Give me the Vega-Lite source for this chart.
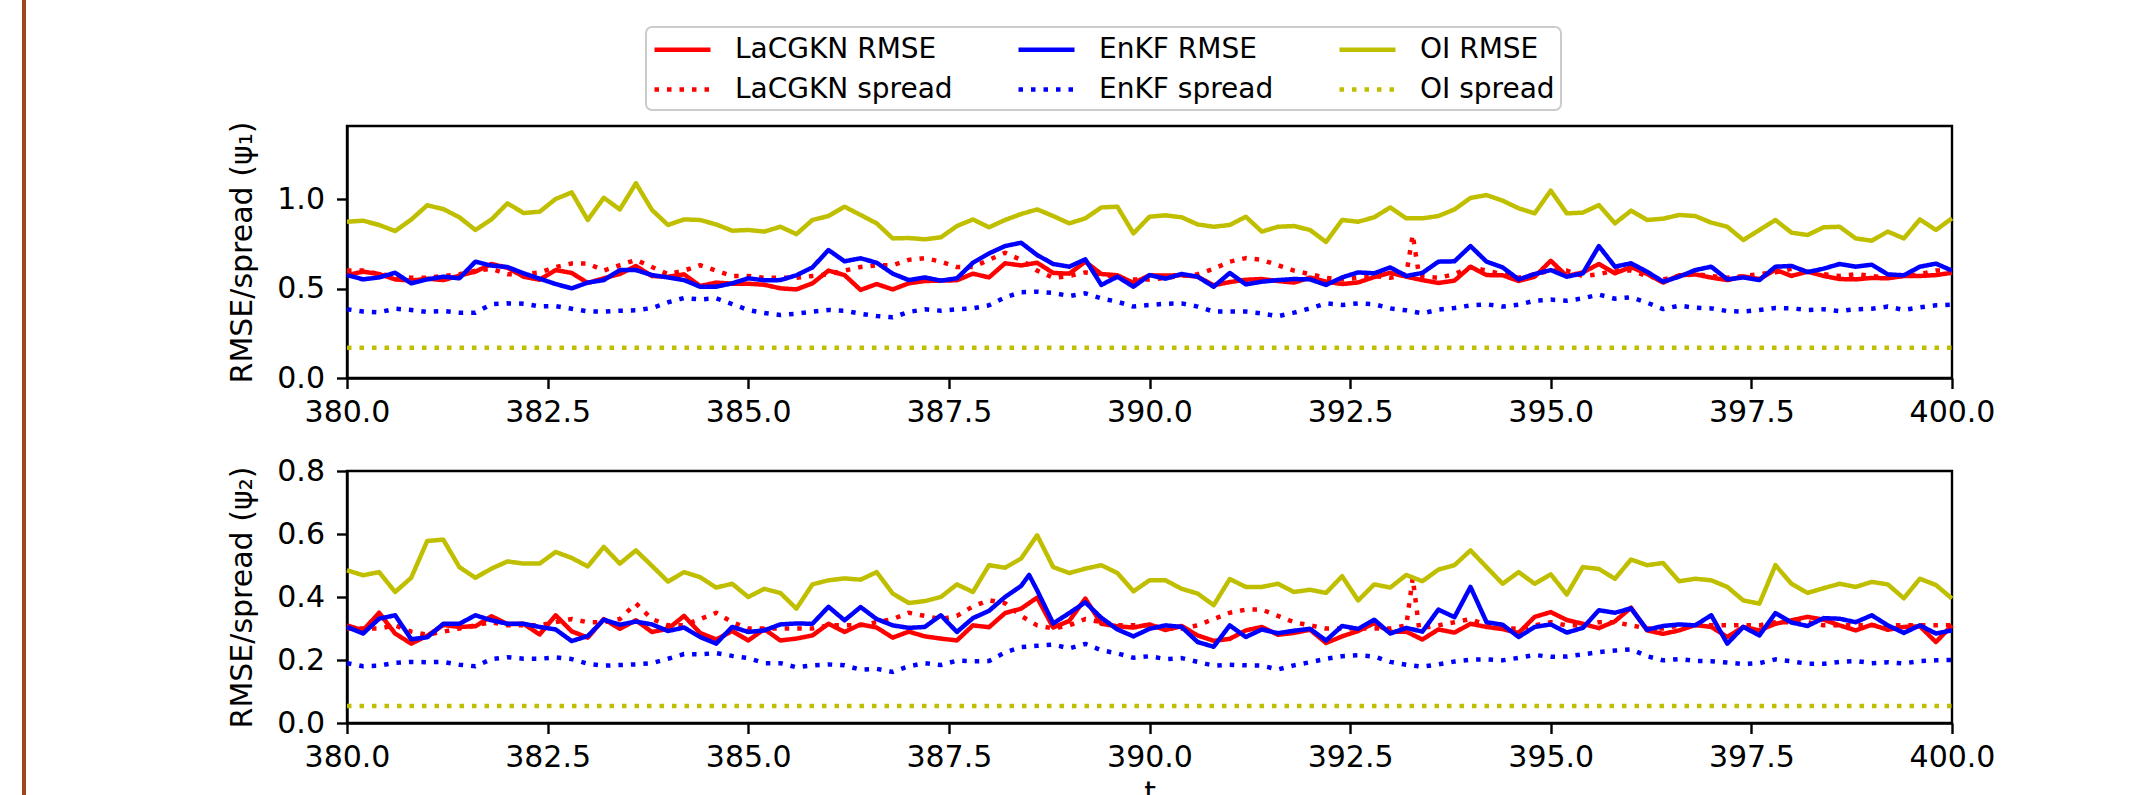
{
"$schema": "https://vega.github.io/schema/vega-lite/v6.json",
"autosize": {"type": "none"},
"padding": {"left": 347, "top": 126, "right": 1799, "bottom": 669},
"background": "white",
"datasets": {
"psi1": [
{"s":"LR","t":380.0,"v":0.575},{"s":"LR","t":380.2,"v":0.594},{"s":"LR","t":380.4,"v":0.581},{"s":"LR","t":380.6,"v":0.551},{"s":"LR","t":380.8,"v":0.544},{"s":"LR","t":381.0,"v":0.555},{"s":"LR","t":381.2,"v":0.547},{"s":"LR","t":381.4,"v":0.572},{"s":"LR","t":381.6,"v":0.594},{"s":"LR","t":381.8,"v":0.637},{"s":"LR","t":382.0,"v":0.616},{"s":"LR","t":382.2,"v":0.566},{"s":"LR","t":382.4,"v":0.549},{"s":"LR","t":382.6,"v":0.603},{"s":"LR","t":382.8,"v":0.587},{"s":"LR","t":383.0,"v":0.531},{"s":"LR","t":383.2,"v":0.557},{"s":"LR","t":383.4,"v":0.581},{"s":"LR","t":383.6,"v":0.626},{"s":"LR","t":383.8,"v":0.570},{"s":"LR","t":384.0,"v":0.566},{"s":"LR","t":384.2,"v":0.579},{"s":"LR","t":384.4,"v":0.514},{"s":"LR","t":384.6,"v":0.533},{"s":"LR","t":384.8,"v":0.527},{"s":"LR","t":385.0,"v":0.527},{"s":"LR","t":385.2,"v":0.521},{"s":"LR","t":385.4,"v":0.501},{"s":"LR","t":385.6,"v":0.495},{"s":"LR","t":385.8,"v":0.529},{"s":"LR","t":386.0,"v":0.600},{"s":"LR","t":386.2,"v":0.575},{"s":"LR","t":386.4,"v":0.492},{"s":"LR","t":386.6,"v":0.525},{"s":"LR","t":386.8,"v":0.495},{"s":"LR","t":387.0,"v":0.529},{"s":"LR","t":387.2,"v":0.542},{"s":"LR","t":387.4,"v":0.544},{"s":"LR","t":387.6,"v":0.546},{"s":"LR","t":387.8,"v":0.583},{"s":"LR","t":388.0,"v":0.562},{"s":"LR","t":388.2,"v":0.641},{"s":"LR","t":388.4,"v":0.629},{"s":"LR","t":388.6,"v":0.644},{"s":"LR","t":388.8,"v":0.587},{"s":"LR","t":389.0,"v":0.583},{"s":"LR","t":389.2,"v":0.650},{"s":"LR","t":389.4,"v":0.581},{"s":"LR","t":389.6,"v":0.574},{"s":"LR","t":389.8,"v":0.531},{"s":"LR","t":390.0,"v":0.574},{"s":"LR","t":390.2,"v":0.572},{"s":"LR","t":390.4,"v":0.575},{"s":"LR","t":390.6,"v":0.566},{"s":"LR","t":390.8,"v":0.518},{"s":"LR","t":391.0,"v":0.536},{"s":"LR","t":391.2,"v":0.549},{"s":"LR","t":391.4,"v":0.553},{"s":"LR","t":391.6,"v":0.542},{"s":"LR","t":391.8,"v":0.533},{"s":"LR","t":392.0,"v":0.561},{"s":"LR","t":392.2,"v":0.538},{"s":"LR","t":392.4,"v":0.525},{"s":"LR","t":392.6,"v":0.534},{"s":"LR","t":392.8,"v":0.564},{"s":"LR","t":393.0,"v":0.588},{"s":"LR","t":393.2,"v":0.566},{"s":"LR","t":393.4,"v":0.547},{"s":"LR","t":393.6,"v":0.531},{"s":"LR","t":393.8,"v":0.544},{"s":"LR","t":394.0,"v":0.622},{"s":"LR","t":394.2,"v":0.575},{"s":"LR","t":394.4,"v":0.574},{"s":"LR","t":394.6,"v":0.542},{"s":"LR","t":394.8,"v":0.566},{"s":"LR","t":395.0,"v":0.655},{"s":"LR","t":395.2,"v":0.570},{"s":"LR","t":395.4,"v":0.590},{"s":"LR","t":395.6,"v":0.637},{"s":"LR","t":395.8,"v":0.585},{"s":"LR","t":396.0,"v":0.620},{"s":"LR","t":396.2,"v":0.581},{"s":"LR","t":396.4,"v":0.533},{"s":"LR","t":396.6,"v":0.574},{"s":"LR","t":396.8,"v":0.579},{"s":"LR","t":397.0,"v":0.561},{"s":"LR","t":397.2,"v":0.547},{"s":"LR","t":397.4,"v":0.568},{"s":"LR","t":397.6,"v":0.553},{"s":"LR","t":397.8,"v":0.605},{"s":"LR","t":398.0,"v":0.570},{"s":"LR","t":398.2,"v":0.594},{"s":"LR","t":398.4,"v":0.570},{"s":"LR","t":398.6,"v":0.553},{"s":"LR","t":398.8,"v":0.551},{"s":"LR","t":399.0,"v":0.559},{"s":"LR","t":399.2,"v":0.557},{"s":"LR","t":399.4,"v":0.570},{"s":"LR","t":399.6,"v":0.570},{"s":"LR","t":399.8,"v":0.575},{"s":"LR","t":400.0,"v":0.588},
{"s":"LS","t":380.0,"v":0.60},{"s":"LS","t":380.2,"v":0.60},{"s":"LS","t":380.4,"v":0.58},{"s":"LS","t":380.6,"v":0.57},{"s":"LS","t":380.8,"v":0.56},{"s":"LS","t":381.0,"v":0.56},{"s":"LS","t":381.2,"v":0.57},{"s":"LS","t":381.4,"v":0.58},{"s":"LS","t":381.6,"v":0.60},{"s":"LS","t":381.8,"v":0.61},{"s":"LS","t":382.0,"v":0.58},{"s":"LS","t":382.2,"v":0.58},{"s":"LS","t":382.4,"v":0.59},{"s":"LS","t":382.6,"v":0.62},{"s":"LS","t":382.8,"v":0.64},{"s":"LS","t":383.0,"v":0.64},{"s":"LS","t":383.2,"v":0.60},{"s":"LS","t":383.4,"v":0.63},{"s":"LS","t":383.6,"v":0.66},{"s":"LS","t":383.8,"v":0.62},{"s":"LS","t":384.0,"v":0.58},{"s":"LS","t":384.2,"v":0.60},{"s":"LS","t":384.4,"v":0.63},{"s":"LS","t":384.6,"v":0.60},{"s":"LS","t":384.8,"v":0.57},{"s":"LS","t":385.0,"v":0.57},{"s":"LS","t":385.2,"v":0.56},{"s":"LS","t":385.4,"v":0.56},{"s":"LS","t":385.6,"v":0.56},{"s":"LS","t":385.8,"v":0.57},{"s":"LS","t":386.0,"v":0.58},{"s":"LS","t":386.2,"v":0.60},{"s":"LS","t":386.4,"v":0.62},{"s":"LS","t":386.6,"v":0.63},{"s":"LS","t":386.8,"v":0.63},{"s":"LS","t":387.0,"v":0.66},{"s":"LS","t":387.2,"v":0.67},{"s":"LS","t":387.4,"v":0.65},{"s":"LS","t":387.6,"v":0.62},{"s":"LS","t":387.8,"v":0.62},{"s":"LS","t":388.0,"v":0.66},{"s":"LS","t":388.2,"v":0.70},{"s":"LS","t":388.4,"v":0.66},{"s":"LS","t":388.6,"v":0.60},{"s":"LS","t":388.8,"v":0.56},{"s":"LS","t":389.0,"v":0.57},{"s":"LS","t":389.2,"v":0.59},{"s":"LS","t":389.4,"v":0.58},{"s":"LS","t":389.6,"v":0.56},{"s":"LS","t":389.8,"v":0.55},{"s":"LS","t":390.0,"v":0.55},{"s":"LS","t":390.2,"v":0.56},{"s":"LS","t":390.4,"v":0.57},{"s":"LS","t":390.6,"v":0.58},{"s":"LS","t":390.8,"v":0.61},{"s":"LS","t":391.0,"v":0.65},{"s":"LS","t":391.2,"v":0.67},{"s":"LS","t":391.4,"v":0.66},{"s":"LS","t":391.6,"v":0.63},{"s":"LS","t":391.8,"v":0.60},{"s":"LS","t":392.0,"v":0.58},{"s":"LS","t":392.2,"v":0.56},{"s":"LS","t":392.4,"v":0.55},{"s":"LS","t":392.6,"v":0.56},{"s":"LS","t":392.8,"v":0.57},{"s":"LS","t":393.0,"v":0.56},{"s":"LS","t":393.2,"v":0.58},{"s":"LS","t":393.28,"v":0.80},{"s":"LS","t":393.36,"v":0.57},{"s":"LS","t":393.6,"v":0.56},{"s":"LS","t":393.8,"v":0.58},{"s":"LS","t":394.0,"v":0.62},{"s":"LS","t":394.2,"v":0.60},{"s":"LS","t":394.4,"v":0.58},{"s":"LS","t":394.6,"v":0.56},{"s":"LS","t":394.8,"v":0.58},{"s":"LS","t":395.0,"v":0.60},{"s":"LS","t":395.2,"v":0.60},{"s":"LS","t":395.4,"v":0.57},{"s":"LS","t":395.6,"v":0.58},{"s":"LS","t":395.8,"v":0.60},{"s":"LS","t":396.0,"v":0.60},{"s":"LS","t":396.2,"v":0.57},{"s":"LS","t":396.4,"v":0.55},{"s":"LS","t":396.6,"v":0.57},{"s":"LS","t":396.8,"v":0.58},{"s":"LS","t":397.0,"v":0.57},{"s":"LS","t":397.2,"v":0.56},{"s":"LS","t":397.4,"v":0.57},{"s":"LS","t":397.6,"v":0.58},{"s":"LS","t":397.8,"v":0.59},{"s":"LS","t":398.0,"v":0.61},{"s":"LS","t":398.2,"v":0.60},{"s":"LS","t":398.4,"v":0.58},{"s":"LS","t":398.6,"v":0.57},{"s":"LS","t":398.8,"v":0.58},{"s":"LS","t":399.0,"v":0.57},{"s":"LS","t":399.2,"v":0.56},{"s":"LS","t":399.4,"v":0.57},{"s":"LS","t":399.6,"v":0.58},{"s":"LS","t":399.8,"v":0.60},{"s":"LS","t":400.0,"v":0.60},
{"s":"ER","t":380.0,"v":0.575},{"s":"ER","t":380.2,"v":0.551},{"s":"ER","t":380.4,"v":0.562},{"s":"ER","t":380.6,"v":0.588},{"s":"ER","t":380.8,"v":0.529},{"s":"ER","t":381.0,"v":0.551},{"s":"ER","t":381.2,"v":0.566},{"s":"ER","t":381.4,"v":0.557},{"s":"ER","t":381.6,"v":0.650},{"s":"ER","t":381.8,"v":0.628},{"s":"ER","t":382.0,"v":0.620},{"s":"ER","t":382.2,"v":0.585},{"s":"ER","t":382.4,"v":0.555},{"s":"ER","t":382.6,"v":0.525},{"s":"ER","t":382.8,"v":0.501},{"s":"ER","t":383.0,"v":0.533},{"s":"ER","t":383.2,"v":0.547},{"s":"ER","t":383.4,"v":0.603},{"s":"ER","t":383.6,"v":0.603},{"s":"ER","t":383.8,"v":0.575},{"s":"ER","t":384.0,"v":0.562},{"s":"ER","t":384.2,"v":0.547},{"s":"ER","t":384.4,"v":0.510},{"s":"ER","t":384.6,"v":0.510},{"s":"ER","t":384.8,"v":0.529},{"s":"ER","t":385.0,"v":0.557},{"s":"ER","t":385.2,"v":0.546},{"s":"ER","t":385.4,"v":0.547},{"s":"ER","t":385.6,"v":0.574},{"s":"ER","t":385.8,"v":0.618},{"s":"ER","t":386.0,"v":0.715},{"s":"ER","t":386.2,"v":0.652},{"s":"ER","t":386.4,"v":0.669},{"s":"ER","t":386.6,"v":0.644},{"s":"ER","t":386.8,"v":0.583},{"s":"ER","t":387.0,"v":0.547},{"s":"ER","t":387.2,"v":0.562},{"s":"ER","t":387.4,"v":0.544},{"s":"ER","t":387.6,"v":0.557},{"s":"ER","t":387.8,"v":0.644},{"s":"ER","t":388.0,"v":0.696},{"s":"ER","t":388.2,"v":0.737},{"s":"ER","t":388.4,"v":0.756},{"s":"ER","t":388.6,"v":0.687},{"s":"ER","t":388.8,"v":0.637},{"s":"ER","t":389.0,"v":0.622},{"s":"ER","t":389.2,"v":0.663},{"s":"ER","t":389.4,"v":0.520},{"s":"ER","t":389.6,"v":0.566},{"s":"ER","t":389.8,"v":0.510},{"s":"ER","t":390.0,"v":0.575},{"s":"ER","t":390.2,"v":0.555},{"s":"ER","t":390.4,"v":0.581},{"s":"ER","t":390.6,"v":0.566},{"s":"ER","t":390.8,"v":0.510},{"s":"ER","t":391.0,"v":0.587},{"s":"ER","t":391.2,"v":0.523},{"s":"ER","t":391.4,"v":0.538},{"s":"ER","t":391.6,"v":0.547},{"s":"ER","t":391.8,"v":0.553},{"s":"ER","t":392.0,"v":0.551},{"s":"ER","t":392.2,"v":0.520},{"s":"ER","t":392.4,"v":0.562},{"s":"ER","t":392.6,"v":0.590},{"s":"ER","t":392.8,"v":0.585},{"s":"ER","t":393.0,"v":0.618},{"s":"ER","t":393.2,"v":0.570},{"s":"ER","t":393.4,"v":0.587},{"s":"ER","t":393.6,"v":0.650},{"s":"ER","t":393.8,"v":0.652},{"s":"ER","t":394.0,"v":0.737},{"s":"ER","t":394.2,"v":0.650},{"s":"ER","t":394.4,"v":0.618},{"s":"ER","t":394.6,"v":0.551},{"s":"ER","t":394.8,"v":0.581},{"s":"ER","t":395.0,"v":0.603},{"s":"ER","t":395.2,"v":0.566},{"s":"ER","t":395.4,"v":0.585},{"s":"ER","t":395.6,"v":0.737},{"s":"ER","t":395.8,"v":0.622},{"s":"ER","t":396.0,"v":0.641},{"s":"ER","t":396.2,"v":0.594},{"s":"ER","t":396.4,"v":0.538},{"s":"ER","t":396.6,"v":0.566},{"s":"ER","t":396.8,"v":0.603},{"s":"ER","t":397.0,"v":0.622},{"s":"ER","t":397.2,"v":0.551},{"s":"ER","t":397.4,"v":0.562},{"s":"ER","t":397.6,"v":0.547},{"s":"ER","t":397.8,"v":0.622},{"s":"ER","t":398.0,"v":0.626},{"s":"ER","t":398.2,"v":0.592},{"s":"ER","t":398.4,"v":0.611},{"s":"ER","t":398.6,"v":0.637},{"s":"ER","t":398.8,"v":0.622},{"s":"ER","t":399.0,"v":0.633},{"s":"ER","t":399.2,"v":0.579},{"s":"ER","t":399.4,"v":0.574},{"s":"ER","t":399.6,"v":0.622},{"s":"ER","t":399.8,"v":0.639},{"s":"ER","t":400.0,"v":0.600},
{"s":"ES","t":380.0,"v":0.384},{"s":"ES","t":380.2,"v":0.372},{"s":"ES","t":380.4,"v":0.367},{"s":"ES","t":380.6,"v":0.387},{"s":"ES","t":380.8,"v":0.380},{"s":"ES","t":381.0,"v":0.369},{"s":"ES","t":381.2,"v":0.374},{"s":"ES","t":381.4,"v":0.365},{"s":"ES","t":381.6,"v":0.365},{"s":"ES","t":381.8,"v":0.412},{"s":"ES","t":382.0,"v":0.417},{"s":"ES","t":382.2,"v":0.415},{"s":"ES","t":382.4,"v":0.400},{"s":"ES","t":382.6,"v":0.402},{"s":"ES","t":382.8,"v":0.387},{"s":"ES","t":383.0,"v":0.372},{"s":"ES","t":383.2,"v":0.371},{"s":"ES","t":383.4,"v":0.376},{"s":"ES","t":383.6,"v":0.378},{"s":"ES","t":383.8,"v":0.391},{"s":"ES","t":384.0,"v":0.423},{"s":"ES","t":384.2,"v":0.447},{"s":"ES","t":384.4,"v":0.439},{"s":"ES","t":384.6,"v":0.445},{"s":"ES","t":384.8,"v":0.413},{"s":"ES","t":385.0,"v":0.380},{"s":"ES","t":385.2,"v":0.363},{"s":"ES","t":385.4,"v":0.352},{"s":"ES","t":385.6,"v":0.359},{"s":"ES","t":385.8,"v":0.371},{"s":"ES","t":386.0,"v":0.380},{"s":"ES","t":386.2,"v":0.376},{"s":"ES","t":386.4,"v":0.359},{"s":"ES","t":386.6,"v":0.346},{"s":"ES","t":386.8,"v":0.339},{"s":"ES","t":387.0,"v":0.369},{"s":"ES","t":387.2,"v":0.384},{"s":"ES","t":387.4,"v":0.376},{"s":"ES","t":387.6,"v":0.384},{"s":"ES","t":387.8,"v":0.389},{"s":"ES","t":388.0,"v":0.406},{"s":"ES","t":388.2,"v":0.451},{"s":"ES","t":388.4,"v":0.479},{"s":"ES","t":388.6,"v":0.482},{"s":"ES","t":388.8,"v":0.475},{"s":"ES","t":389.0,"v":0.458},{"s":"ES","t":389.2,"v":0.473},{"s":"ES","t":389.4,"v":0.445},{"s":"ES","t":389.6,"v":0.426},{"s":"ES","t":389.8,"v":0.399},{"s":"ES","t":390.0,"v":0.408},{"s":"ES","t":390.2,"v":0.415},{"s":"ES","t":390.4,"v":0.417},{"s":"ES","t":390.6,"v":0.399},{"s":"ES","t":390.8,"v":0.371},{"s":"ES","t":391.0,"v":0.371},{"s":"ES","t":391.2,"v":0.371},{"s":"ES","t":391.4,"v":0.361},{"s":"ES","t":391.6,"v":0.345},{"s":"ES","t":391.8,"v":0.365},{"s":"ES","t":392.0,"v":0.389},{"s":"ES","t":392.2,"v":0.417},{"s":"ES","t":392.4,"v":0.408},{"s":"ES","t":392.6,"v":0.417},{"s":"ES","t":392.8,"v":0.412},{"s":"ES","t":393.0,"v":0.389},{"s":"ES","t":393.2,"v":0.378},{"s":"ES","t":393.4,"v":0.361},{"s":"ES","t":393.6,"v":0.382},{"s":"ES","t":393.8,"v":0.391},{"s":"ES","t":394.0,"v":0.406},{"s":"ES","t":394.2,"v":0.412},{"s":"ES","t":394.4,"v":0.399},{"s":"ES","t":394.6,"v":0.410},{"s":"ES","t":394.8,"v":0.432},{"s":"ES","t":395.0,"v":0.438},{"s":"ES","t":395.2,"v":0.432},{"s":"ES","t":395.4,"v":0.445},{"s":"ES","t":395.6,"v":0.466},{"s":"ES","t":395.8,"v":0.443},{"s":"ES","t":396.0,"v":0.451},{"s":"ES","t":396.2,"v":0.421},{"s":"ES","t":396.4,"v":0.385},{"s":"ES","t":396.6,"v":0.404},{"s":"ES","t":396.8,"v":0.393},{"s":"ES","t":397.0,"v":0.389},{"s":"ES","t":397.2,"v":0.374},{"s":"ES","t":397.4,"v":0.371},{"s":"ES","t":397.6,"v":0.380},{"s":"ES","t":397.8,"v":0.391},{"s":"ES","t":398.0,"v":0.389},{"s":"ES","t":398.2,"v":0.380},{"s":"ES","t":398.4,"v":0.384},{"s":"ES","t":398.6,"v":0.374},{"s":"ES","t":398.8,"v":0.384},{"s":"ES","t":399.0,"v":0.387},{"s":"ES","t":399.2,"v":0.399},{"s":"ES","t":399.4,"v":0.380},{"s":"ES","t":399.6,"v":0.395},{"s":"ES","t":399.8,"v":0.406},{"s":"ES","t":400.0,"v":0.410},
{"s":"OR","t":380.0,"v":0.873},{"s":"OR","t":380.2,"v":0.879},{"s":"OR","t":380.4,"v":0.855},{"s":"OR","t":380.6,"v":0.821},{"s":"OR","t":380.8,"v":0.885},{"s":"OR","t":381.0,"v":0.965},{"s":"OR","t":381.2,"v":0.944},{"s":"OR","t":381.4,"v":0.898},{"s":"OR","t":381.6,"v":0.827},{"s":"OR","t":381.8,"v":0.886},{"s":"OR","t":382.0,"v":0.976},{"s":"OR","t":382.2,"v":0.922},{"s":"OR","t":382.4,"v":0.929},{"s":"OR","t":382.6,"v":1.0},{"s":"OR","t":382.8,"v":1.037},{"s":"OR","t":383.0,"v":0.883},{"s":"OR","t":383.2,"v":1.007},{"s":"OR","t":383.4,"v":0.942},{"s":"OR","t":383.6,"v":1.088},{"s":"OR","t":383.8,"v":0.939},{"s":"OR","t":384.0,"v":0.855},{"s":"OR","t":384.2,"v":0.886},{"s":"OR","t":384.4,"v":0.883},{"s":"OR","t":384.6,"v":0.858},{"s":"OR","t":384.8,"v":0.823},{"s":"OR","t":385.0,"v":0.827},{"s":"OR","t":385.2,"v":0.818},{"s":"OR","t":385.4,"v":0.845},{"s":"OR","t":385.6,"v":0.804},{"s":"OR","t":385.8,"v":0.883},{"s":"OR","t":386.0,"v":0.905},{"s":"OR","t":386.2,"v":0.957},{"s":"OR","t":386.4,"v":0.911},{"s":"OR","t":386.6,"v":0.864},{"s":"OR","t":386.8,"v":0.780},{"s":"OR","t":387.0,"v":0.782},{"s":"OR","t":387.2,"v":0.775},{"s":"OR","t":387.4,"v":0.786},{"s":"OR","t":387.6,"v":0.849},{"s":"OR","t":387.8,"v":0.886},{"s":"OR","t":388.0,"v":0.842},{"s":"OR","t":388.2,"v":0.883},{"s":"OR","t":388.4,"v":0.916},{"s":"OR","t":388.6,"v":0.942},{"s":"OR","t":388.8,"v":0.905},{"s":"OR","t":389.0,"v":0.864},{"s":"OR","t":389.2,"v":0.892},{"s":"OR","t":389.4,"v":0.953},{"s":"OR","t":389.6,"v":0.957},{"s":"OR","t":389.8,"v":0.808},{"s":"OR","t":390.0,"v":0.901},{"s":"OR","t":390.2,"v":0.909},{"s":"OR","t":390.4,"v":0.898},{"s":"OR","t":390.6,"v":0.858},{"s":"OR","t":390.8,"v":0.845},{"s":"OR","t":391.0,"v":0.855},{"s":"OR","t":391.2,"v":0.901},{"s":"OR","t":391.4,"v":0.818},{"s":"OR","t":391.6,"v":0.845},{"s":"OR","t":391.8,"v":0.849},{"s":"OR","t":392.0,"v":0.827},{"s":"OR","t":392.2,"v":0.760},{"s":"OR","t":392.4,"v":0.883},{"s":"OR","t":392.6,"v":0.873},{"s":"OR","t":392.8,"v":0.898},{"s":"OR","t":393.0,"v":0.953},{"s":"OR","t":393.2,"v":0.892},{"s":"OR","t":393.4,"v":0.892},{"s":"OR","t":393.6,"v":0.905},{"s":"OR","t":393.8,"v":0.942},{"s":"OR","t":394.0,"v":1.006},{"s":"OR","t":394.2,"v":1.022},{"s":"OR","t":394.4,"v":0.991},{"s":"OR","t":394.6,"v":0.948},{"s":"OR","t":394.8,"v":0.920},{"s":"OR","t":395.0,"v":1.047},{"s":"OR","t":395.2,"v":0.920},{"s":"OR","t":395.4,"v":0.924},{"s":"OR","t":395.6,"v":0.966},{"s":"OR","t":395.8,"v":0.864},{"s":"OR","t":396.0,"v":0.935},{"s":"OR","t":396.2,"v":0.883},{"s":"OR","t":396.4,"v":0.890},{"s":"OR","t":396.6,"v":0.911},{"s":"OR","t":396.8,"v":0.905},{"s":"OR","t":397.0,"v":0.868},{"s":"OR","t":397.2,"v":0.845},{"s":"OR","t":397.4,"v":0.771},{"s":"OR","t":397.6,"v":0.827},{"s":"OR","t":397.8,"v":0.883},{"s":"OR","t":398.0,"v":0.812},{"s":"OR","t":398.2,"v":0.799},{"s":"OR","t":398.4,"v":0.842},{"s":"OR","t":398.6,"v":0.845},{"s":"OR","t":398.8,"v":0.780},{"s":"OR","t":399.0,"v":0.767},{"s":"OR","t":399.2,"v":0.818},{"s":"OR","t":399.4,"v":0.780},{"s":"OR","t":399.6,"v":0.886},{"s":"OR","t":399.8,"v":0.827},{"s":"OR","t":400.0,"v":0.892},
{"s":"OS","t":380.0,"v":0.169},{"s":"OS","t":400.0,"v":0.169}
],
"psi2": [
{"s":"LR","t":380.0,"v":0.310},{"s":"LR","t":380.2,"v":0.294},{"s":"LR","t":380.4,"v":0.350},{"s":"LR","t":380.6,"v":0.284},{"s":"LR","t":380.8,"v":0.252},{"s":"LR","t":381.0,"v":0.277},{"s":"LR","t":381.2,"v":0.311},{"s":"LR","t":381.4,"v":0.305},{"s":"LR","t":381.6,"v":0.307},{"s":"LR","t":381.8,"v":0.339},{"s":"LR","t":382.0,"v":0.314},{"s":"LR","t":382.2,"v":0.315},{"s":"LR","t":382.4,"v":0.281},{"s":"LR","t":382.6,"v":0.342},{"s":"LR","t":382.8,"v":0.291},{"s":"LR","t":383.0,"v":0.271},{"s":"LR","t":383.2,"v":0.330},{"s":"LR","t":383.4,"v":0.299},{"s":"LR","t":383.6,"v":0.326},{"s":"LR","t":383.8,"v":0.289},{"s":"LR","t":384.0,"v":0.299},{"s":"LR","t":384.2,"v":0.340},{"s":"LR","t":384.4,"v":0.286},{"s":"LR","t":384.6,"v":0.265},{"s":"LR","t":384.8,"v":0.292},{"s":"LR","t":385.0,"v":0.262},{"s":"LR","t":385.2,"v":0.298},{"s":"LR","t":385.4,"v":0.262},{"s":"LR","t":385.6,"v":0.268},{"s":"LR","t":385.8,"v":0.278},{"s":"LR","t":386.0,"v":0.315},{"s":"LR","t":386.2,"v":0.289},{"s":"LR","t":386.4,"v":0.313},{"s":"LR","t":386.6,"v":0.303},{"s":"LR","t":386.8,"v":0.271},{"s":"LR","t":387.0,"v":0.290},{"s":"LR","t":387.2,"v":0.275},{"s":"LR","t":387.4,"v":0.268},{"s":"LR","t":387.6,"v":0.262},{"s":"LR","t":387.8,"v":0.310},{"s":"LR","t":388.0,"v":0.304},{"s":"LR","t":388.2,"v":0.349},{"s":"LR","t":388.4,"v":0.363},{"s":"LR","t":388.6,"v":0.398},{"s":"LR","t":388.8,"v":0.303},{"s":"LR","t":389.0,"v":0.324},{"s":"LR","t":389.2,"v":0.395},{"s":"LR","t":389.4,"v":0.315},{"s":"LR","t":389.6,"v":0.307},{"s":"LR","t":389.8,"v":0.303},{"s":"LR","t":390.0,"v":0.313},{"s":"LR","t":390.2,"v":0.295},{"s":"LR","t":390.4,"v":0.308},{"s":"LR","t":390.6,"v":0.278},{"s":"LR","t":390.8,"v":0.261},{"s":"LR","t":391.0,"v":0.267},{"s":"LR","t":391.2,"v":0.294},{"s":"LR","t":391.4,"v":0.305},{"s":"LR","t":391.6,"v":0.280},{"s":"LR","t":391.8,"v":0.286},{"s":"LR","t":392.0,"v":0.296},{"s":"LR","t":392.2,"v":0.254},{"s":"LR","t":392.4,"v":0.275},{"s":"LR","t":392.6,"v":0.292},{"s":"LR","t":392.8,"v":0.317},{"s":"LR","t":393.0,"v":0.289},{"s":"LR","t":393.2,"v":0.290},{"s":"LR","t":393.4,"v":0.265},{"s":"LR","t":393.6,"v":0.297},{"s":"LR","t":393.8,"v":0.287},{"s":"LR","t":394.0,"v":0.315},{"s":"LR","t":394.2,"v":0.305},{"s":"LR","t":394.4,"v":0.298},{"s":"LR","t":394.6,"v":0.286},{"s":"LR","t":394.8,"v":0.337},{"s":"LR","t":395.0,"v":0.352},{"s":"LR","t":395.2,"v":0.327},{"s":"LR","t":395.4,"v":0.315},{"s":"LR","t":395.6,"v":0.301},{"s":"LR","t":395.8,"v":0.323},{"s":"LR","t":396.0,"v":0.366},{"s":"LR","t":396.2,"v":0.294},{"s":"LR","t":396.4,"v":0.283},{"s":"LR","t":396.6,"v":0.294},{"s":"LR","t":396.8,"v":0.311},{"s":"LR","t":397.0,"v":0.305},{"s":"LR","t":397.2,"v":0.273},{"s":"LR","t":397.4,"v":0.305},{"s":"LR","t":397.6,"v":0.294},{"s":"LR","t":397.8,"v":0.315},{"s":"LR","t":398.0,"v":0.326},{"s":"LR","t":398.2,"v":0.337},{"s":"LR","t":398.4,"v":0.328},{"s":"LR","t":398.6,"v":0.310},{"s":"LR","t":398.8,"v":0.294},{"s":"LR","t":399.0,"v":0.312},{"s":"LR","t":399.2,"v":0.296},{"s":"LR","t":399.4,"v":0.305},{"s":"LR","t":399.6,"v":0.307},{"s":"LR","t":399.8,"v":0.257},{"s":"LR","t":400.0,"v":0.310},
{"s":"LS","t":380.0,"v":0.30},{"s":"LS","t":380.2,"v":0.30},{"s":"LS","t":380.4,"v":0.30},{"s":"LS","t":380.6,"v":0.31},{"s":"LS","t":380.8,"v":0.29},{"s":"LS","t":381.0,"v":0.28},{"s":"LS","t":381.2,"v":0.29},{"s":"LS","t":381.4,"v":0.30},{"s":"LS","t":381.6,"v":0.31},{"s":"LS","t":381.8,"v":0.32},{"s":"LS","t":382.0,"v":0.31},{"s":"LS","t":382.2,"v":0.31},{"s":"LS","t":382.4,"v":0.31},{"s":"LS","t":382.6,"v":0.32},{"s":"LS","t":382.8,"v":0.33},{"s":"LS","t":383.0,"v":0.32},{"s":"LS","t":383.2,"v":0.32},{"s":"LS","t":383.4,"v":0.33},{"s":"LS","t":383.6,"v":0.38},{"s":"LS","t":383.8,"v":0.33},{"s":"LS","t":384.0,"v":0.31},{"s":"LS","t":384.2,"v":0.31},{"s":"LS","t":384.4,"v":0.33},{"s":"LS","t":384.6,"v":0.35},{"s":"LS","t":384.8,"v":0.32},{"s":"LS","t":385.0,"v":0.30},{"s":"LS","t":385.2,"v":0.30},{"s":"LS","t":385.4,"v":0.30},{"s":"LS","t":385.6,"v":0.30},{"s":"LS","t":385.8,"v":0.30},{"s":"LS","t":386.0,"v":0.31},{"s":"LS","t":386.2,"v":0.31},{"s":"LS","t":386.4,"v":0.31},{"s":"LS","t":386.6,"v":0.32},{"s":"LS","t":386.8,"v":0.33},{"s":"LS","t":387.0,"v":0.35},{"s":"LS","t":387.2,"v":0.34},{"s":"LS","t":387.4,"v":0.33},{"s":"LS","t":387.6,"v":0.34},{"s":"LS","t":387.8,"v":0.37},{"s":"LS","t":388.0,"v":0.39},{"s":"LS","t":388.2,"v":0.38},{"s":"LS","t":388.4,"v":0.34},{"s":"LS","t":388.6,"v":0.31},{"s":"LS","t":388.8,"v":0.30},{"s":"LS","t":389.0,"v":0.31},{"s":"LS","t":389.2,"v":0.33},{"s":"LS","t":389.4,"v":0.32},{"s":"LS","t":389.6,"v":0.31},{"s":"LS","t":389.8,"v":0.31},{"s":"LS","t":390.0,"v":0.31},{"s":"LS","t":390.2,"v":0.30},{"s":"LS","t":390.4,"v":0.30},{"s":"LS","t":390.6,"v":0.31},{"s":"LS","t":390.8,"v":0.33},{"s":"LS","t":391.0,"v":0.35},{"s":"LS","t":391.2,"v":0.36},{"s":"LS","t":391.4,"v":0.36},{"s":"LS","t":391.6,"v":0.34},{"s":"LS","t":391.8,"v":0.32},{"s":"LS","t":392.0,"v":0.31},{"s":"LS","t":392.2,"v":0.30},{"s":"LS","t":392.4,"v":0.30},{"s":"LS","t":392.6,"v":0.30},{"s":"LS","t":392.8,"v":0.30},{"s":"LS","t":393.0,"v":0.30},{"s":"LS","t":393.2,"v":0.31},{"s":"LS","t":393.28,"v":0.46},{"s":"LS","t":393.36,"v":0.30},{"s":"LS","t":393.6,"v":0.31},{"s":"LS","t":393.8,"v":0.32},{"s":"LS","t":394.0,"v":0.33},{"s":"LS","t":394.2,"v":0.31},{"s":"LS","t":394.4,"v":0.30},{"s":"LS","t":394.6,"v":0.30},{"s":"LS","t":394.8,"v":0.31},{"s":"LS","t":395.0,"v":0.32},{"s":"LS","t":395.2,"v":0.31},{"s":"LS","t":395.4,"v":0.31},{"s":"LS","t":395.6,"v":0.32},{"s":"LS","t":395.8,"v":0.32},{"s":"LS","t":396.0,"v":0.31},{"s":"LS","t":396.2,"v":0.30},{"s":"LS","t":396.4,"v":0.30},{"s":"LS","t":396.6,"v":0.31},{"s":"LS","t":396.8,"v":0.31},{"s":"LS","t":397.0,"v":0.31},{"s":"LS","t":397.2,"v":0.31},{"s":"LS","t":397.4,"v":0.31},{"s":"LS","t":397.6,"v":0.31},{"s":"LS","t":397.8,"v":0.32},{"s":"LS","t":398.0,"v":0.32},{"s":"LS","t":398.2,"v":0.32},{"s":"LS","t":398.4,"v":0.31},{"s":"LS","t":398.6,"v":0.31},{"s":"LS","t":398.8,"v":0.31},{"s":"LS","t":399.0,"v":0.31},{"s":"LS","t":399.2,"v":0.31},{"s":"LS","t":399.4,"v":0.31},{"s":"LS","t":399.6,"v":0.31},{"s":"LS","t":399.8,"v":0.31},{"s":"LS","t":400.0,"v":0.31},
{"s":"ER","t":380.0,"v":0.305},{"s":"ER","t":380.2,"v":0.284},{"s":"ER","t":380.4,"v":0.331},{"s":"ER","t":380.6,"v":0.342},{"s":"ER","t":380.8,"v":0.266},{"s":"ER","t":381.0,"v":0.272},{"s":"ER","t":381.2,"v":0.315},{"s":"ER","t":381.4,"v":0.315},{"s":"ER","t":381.6,"v":0.342},{"s":"ER","t":381.8,"v":0.326},{"s":"ER","t":382.0,"v":0.315},{"s":"ER","t":382.2,"v":0.315},{"s":"ER","t":382.4,"v":0.305},{"s":"ER","t":382.6,"v":0.297},{"s":"ER","t":382.8,"v":0.260},{"s":"ER","t":383.0,"v":0.276},{"s":"ER","t":383.2,"v":0.328},{"s":"ER","t":383.4,"v":0.312},{"s":"ER","t":383.6,"v":0.322},{"s":"ER","t":383.8,"v":0.313},{"s":"ER","t":384.0,"v":0.292},{"s":"ER","t":384.2,"v":0.303},{"s":"ER","t":384.4,"v":0.273},{"s":"ER","t":384.6,"v":0.252},{"s":"ER","t":384.8,"v":0.305},{"s":"ER","t":385.0,"v":0.289},{"s":"ER","t":385.2,"v":0.294},{"s":"ER","t":385.4,"v":0.313},{"s":"ER","t":385.6,"v":0.316},{"s":"ER","t":385.8,"v":0.315},{"s":"ER","t":386.0,"v":0.369},{"s":"ER","t":386.2,"v":0.326},{"s":"ER","t":386.4,"v":0.368},{"s":"ER","t":386.6,"v":0.330},{"s":"ER","t":386.8,"v":0.310},{"s":"ER","t":387.0,"v":0.302},{"s":"ER","t":387.2,"v":0.305},{"s":"ER","t":387.4,"v":0.342},{"s":"ER","t":387.6,"v":0.289},{"s":"ER","t":387.8,"v":0.333},{"s":"ER","t":388.0,"v":0.356},{"s":"ER","t":388.2,"v":0.400},{"s":"ER","t":388.4,"v":0.435},{"s":"ER","t":388.5,"v":0.470},{"s":"ER","t":388.6,"v":0.421},{"s":"ER","t":388.8,"v":0.316},{"s":"ER","t":389.0,"v":0.349},{"s":"ER","t":389.2,"v":0.383},{"s":"ER","t":389.4,"v":0.334},{"s":"ER","t":389.6,"v":0.297},{"s":"ER","t":389.8,"v":0.275},{"s":"ER","t":390.0,"v":0.299},{"s":"ER","t":390.2,"v":0.310},{"s":"ER","t":390.4,"v":0.305},{"s":"ER","t":390.6,"v":0.257},{"s":"ER","t":390.8,"v":0.242},{"s":"ER","t":391.0,"v":0.310},{"s":"ER","t":391.2,"v":0.273},{"s":"ER","t":391.4,"v":0.297},{"s":"ER","t":391.6,"v":0.285},{"s":"ER","t":391.8,"v":0.293},{"s":"ER","t":392.0,"v":0.299},{"s":"ER","t":392.2,"v":0.262},{"s":"ER","t":392.4,"v":0.308},{"s":"ER","t":392.6,"v":0.299},{"s":"ER","t":392.8,"v":0.328},{"s":"ER","t":393.0,"v":0.284},{"s":"ER","t":393.2,"v":0.302},{"s":"ER","t":393.4,"v":0.290},{"s":"ER","t":393.6,"v":0.360},{"s":"ER","t":393.8,"v":0.336},{"s":"ER","t":394.0,"v":0.432},{"s":"ER","t":394.2,"v":0.320},{"s":"ER","t":394.4,"v":0.312},{"s":"ER","t":394.6,"v":0.273},{"s":"ER","t":394.8,"v":0.305},{"s":"ER","t":395.0,"v":0.313},{"s":"ER","t":395.2,"v":0.287},{"s":"ER","t":395.4,"v":0.302},{"s":"ER","t":395.6,"v":0.358},{"s":"ER","t":395.8,"v":0.350},{"s":"ER","t":396.0,"v":0.364},{"s":"ER","t":396.2,"v":0.296},{"s":"ER","t":396.4,"v":0.308},{"s":"ER","t":396.6,"v":0.313},{"s":"ER","t":396.8,"v":0.310},{"s":"ER","t":397.0,"v":0.342},{"s":"ER","t":397.2,"v":0.252},{"s":"ER","t":397.4,"v":0.305},{"s":"ER","t":397.6,"v":0.278},{"s":"ER","t":397.8,"v":0.349},{"s":"ER","t":398.0,"v":0.319},{"s":"ER","t":398.2,"v":0.308},{"s":"ER","t":398.4,"v":0.333},{"s":"ER","t":398.6,"v":0.331},{"s":"ER","t":398.8,"v":0.320},{"s":"ER","t":399.0,"v":0.342},{"s":"ER","t":399.2,"v":0.310},{"s":"ER","t":399.4,"v":0.286},{"s":"ER","t":399.6,"v":0.310},{"s":"ER","t":399.8,"v":0.284},{"s":"ER","t":400.0,"v":0.294},
{"s":"ES","t":380.0,"v":0.190},{"s":"ES","t":380.2,"v":0.180},{"s":"ES","t":380.4,"v":0.182},{"s":"ES","t":380.6,"v":0.191},{"s":"ES","t":380.8,"v":0.194},{"s":"ES","t":381.0,"v":0.193},{"s":"ES","t":381.2,"v":0.194},{"s":"ES","t":381.4,"v":0.185},{"s":"ES","t":381.6,"v":0.180},{"s":"ES","t":381.8,"v":0.203},{"s":"ES","t":382.0,"v":0.209},{"s":"ES","t":382.2,"v":0.204},{"s":"ES","t":382.4,"v":0.204},{"s":"ES","t":382.6,"v":0.208},{"s":"ES","t":382.8,"v":0.203},{"s":"ES","t":383.0,"v":0.188},{"s":"ES","t":383.2,"v":0.182},{"s":"ES","t":383.4,"v":0.184},{"s":"ES","t":383.6,"v":0.186},{"s":"ES","t":383.8,"v":0.190},{"s":"ES","t":384.0,"v":0.204},{"s":"ES","t":384.2,"v":0.219},{"s":"ES","t":384.4,"v":0.218},{"s":"ES","t":384.6,"v":0.222},{"s":"ES","t":384.8,"v":0.213},{"s":"ES","t":385.0,"v":0.206},{"s":"ES","t":385.2,"v":0.190},{"s":"ES","t":385.4,"v":0.190},{"s":"ES","t":385.6,"v":0.177},{"s":"ES","t":385.8,"v":0.183},{"s":"ES","t":386.0,"v":0.186},{"s":"ES","t":386.2,"v":0.183},{"s":"ES","t":386.4,"v":0.169},{"s":"ES","t":386.6,"v":0.172},{"s":"ES","t":386.8,"v":0.162},{"s":"ES","t":387.0,"v":0.180},{"s":"ES","t":387.2,"v":0.190},{"s":"ES","t":387.4,"v":0.184},{"s":"ES","t":387.6,"v":0.198},{"s":"ES","t":387.8,"v":0.196},{"s":"ES","t":388.0,"v":0.197},{"s":"ES","t":388.2,"v":0.224},{"s":"ES","t":388.4,"v":0.241},{"s":"ES","t":388.6,"v":0.245},{"s":"ES","t":388.8,"v":0.249},{"s":"ES","t":389.0,"v":0.237},{"s":"ES","t":389.2,"v":0.251},{"s":"ES","t":389.4,"v":0.231},{"s":"ES","t":389.6,"v":0.221},{"s":"ES","t":389.8,"v":0.207},{"s":"ES","t":390.0,"v":0.212},{"s":"ES","t":390.2,"v":0.203},{"s":"ES","t":390.4,"v":0.206},{"s":"ES","t":390.6,"v":0.194},{"s":"ES","t":390.8,"v":0.182},{"s":"ES","t":391.0,"v":0.185},{"s":"ES","t":391.2,"v":0.183},{"s":"ES","t":391.4,"v":0.182},{"s":"ES","t":391.6,"v":0.170},{"s":"ES","t":391.8,"v":0.183},{"s":"ES","t":392.0,"v":0.193},{"s":"ES","t":392.2,"v":0.204},{"s":"ES","t":392.4,"v":0.212},{"s":"ES","t":392.6,"v":0.215},{"s":"ES","t":392.8,"v":0.211},{"s":"ES","t":393.0,"v":0.194},{"s":"ES","t":393.2,"v":0.185},{"s":"ES","t":393.4,"v":0.179},{"s":"ES","t":393.6,"v":0.186},{"s":"ES","t":393.8,"v":0.195},{"s":"ES","t":394.0,"v":0.201},{"s":"ES","t":394.2,"v":0.202},{"s":"ES","t":394.4,"v":0.199},{"s":"ES","t":394.6,"v":0.207},{"s":"ES","t":394.8,"v":0.216},{"s":"ES","t":395.0,"v":0.210},{"s":"ES","t":395.2,"v":0.211},{"s":"ES","t":395.4,"v":0.218},{"s":"ES","t":395.6,"v":0.225},{"s":"ES","t":395.8,"v":0.230},{"s":"ES","t":396.0,"v":0.234},{"s":"ES","t":396.2,"v":0.212},{"s":"ES","t":396.4,"v":0.199},{"s":"ES","t":396.6,"v":0.203},{"s":"ES","t":396.8,"v":0.197},{"s":"ES","t":397.0,"v":0.196},{"s":"ES","t":397.2,"v":0.192},{"s":"ES","t":397.4,"v":0.187},{"s":"ES","t":397.6,"v":0.190},{"s":"ES","t":397.8,"v":0.202},{"s":"ES","t":398.0,"v":0.196},{"s":"ES","t":398.2,"v":0.188},{"s":"ES","t":398.4,"v":0.188},{"s":"ES","t":398.6,"v":0.194},{"s":"ES","t":398.8,"v":0.197},{"s":"ES","t":399.0,"v":0.190},{"s":"ES","t":399.2,"v":0.193},{"s":"ES","t":399.4,"v":0.189},{"s":"ES","t":399.6,"v":0.197},{"s":"ES","t":399.8,"v":0.199},{"s":"ES","t":400.0,"v":0.200},
{"s":"OR","t":380.0,"v":0.485},{"s":"OR","t":380.2,"v":0.469},{"s":"OR","t":380.4,"v":0.479},{"s":"OR","t":380.6,"v":0.416},{"s":"OR","t":380.8,"v":0.461},{"s":"OR","t":381.0,"v":0.578},{"s":"OR","t":381.2,"v":0.582},{"s":"OR","t":381.4,"v":0.495},{"s":"OR","t":381.6,"v":0.461},{"s":"OR","t":381.8,"v":0.490},{"s":"OR","t":382.0,"v":0.513},{"s":"OR","t":382.2,"v":0.506},{"s":"OR","t":382.4,"v":0.506},{"s":"OR","t":382.6,"v":0.543},{"s":"OR","t":382.8,"v":0.524},{"s":"OR","t":383.0,"v":0.497},{"s":"OR","t":383.2,"v":0.559},{"s":"OR","t":383.4,"v":0.506},{"s":"OR","t":383.6,"v":0.548},{"s":"OR","t":383.8,"v":0.499},{"s":"OR","t":384.0,"v":0.449},{"s":"OR","t":384.2,"v":0.479},{"s":"OR","t":384.4,"v":0.463},{"s":"OR","t":384.6,"v":0.430},{"s":"OR","t":384.8,"v":0.442},{"s":"OR","t":385.0,"v":0.400},{"s":"OR","t":385.2,"v":0.426},{"s":"OR","t":385.4,"v":0.413},{"s":"OR","t":385.6,"v":0.363},{"s":"OR","t":385.8,"v":0.440},{"s":"OR","t":386.0,"v":0.453},{"s":"OR","t":386.2,"v":0.459},{"s":"OR","t":386.4,"v":0.455},{"s":"OR","t":386.6,"v":0.479},{"s":"OR","t":386.8,"v":0.411},{"s":"OR","t":387.0,"v":0.381},{"s":"OR","t":387.2,"v":0.387},{"s":"OR","t":387.4,"v":0.400},{"s":"OR","t":387.6,"v":0.440},{"s":"OR","t":387.8,"v":0.416},{"s":"OR","t":388.0,"v":0.501},{"s":"OR","t":388.2,"v":0.493},{"s":"OR","t":388.4,"v":0.522},{"s":"OR","t":388.6,"v":0.596},{"s":"OR","t":388.8,"v":0.495},{"s":"OR","t":389.0,"v":0.476},{"s":"OR","t":389.2,"v":0.490},{"s":"OR","t":389.4,"v":0.501},{"s":"OR","t":389.6,"v":0.476},{"s":"OR","t":389.8,"v":0.418},{"s":"OR","t":390.0,"v":0.453},{"s":"OR","t":390.2,"v":0.453},{"s":"OR","t":390.4,"v":0.426},{"s":"OR","t":390.6,"v":0.411},{"s":"OR","t":390.8,"v":0.374},{"s":"OR","t":391.0,"v":0.457},{"s":"OR","t":391.2,"v":0.432},{"s":"OR","t":391.4,"v":0.432},{"s":"OR","t":391.6,"v":0.442},{"s":"OR","t":391.8,"v":0.416},{"s":"OR","t":392.0,"v":0.423},{"s":"OR","t":392.2,"v":0.413},{"s":"OR","t":392.4,"v":0.466},{"s":"OR","t":392.6,"v":0.389},{"s":"OR","t":392.8,"v":0.440},{"s":"OR","t":393.0,"v":0.430},{"s":"OR","t":393.2,"v":0.470},{"s":"OR","t":393.4,"v":0.450},{"s":"OR","t":393.6,"v":0.487},{"s":"OR","t":393.8,"v":0.501},{"s":"OR","t":394.0,"v":0.548},{"s":"OR","t":394.2,"v":0.495},{"s":"OR","t":394.4,"v":0.442},{"s":"OR","t":394.6,"v":0.479},{"s":"OR","t":394.8,"v":0.442},{"s":"OR","t":395.0,"v":0.472},{"s":"OR","t":395.2,"v":0.408},{"s":"OR","t":395.4,"v":0.495},{"s":"OR","t":395.6,"v":0.489},{"s":"OR","t":395.8,"v":0.458},{"s":"OR","t":396.0,"v":0.519},{"s":"OR","t":396.2,"v":0.501},{"s":"OR","t":396.4,"v":0.508},{"s":"OR","t":396.6,"v":0.450},{"s":"OR","t":396.8,"v":0.458},{"s":"OR","t":397.0,"v":0.453},{"s":"OR","t":397.2,"v":0.432},{"s":"OR","t":397.4,"v":0.389},{"s":"OR","t":397.6,"v":0.379},{"s":"OR","t":397.8,"v":0.501},{"s":"OR","t":398.0,"v":0.442},{"s":"OR","t":398.2,"v":0.413},{"s":"OR","t":398.4,"v":0.428},{"s":"OR","t":398.6,"v":0.442},{"s":"OR","t":398.8,"v":0.432},{"s":"OR","t":399.0,"v":0.448},{"s":"OR","t":399.2,"v":0.440},{"s":"OR","t":399.4,"v":0.396},{"s":"OR","t":399.6,"v":0.458},{"s":"OR","t":399.8,"v":0.438},{"s":"OR","t":400.0,"v":0.395},
{"s":"OS","t":380.0,"v":0.054},{"s":"OS","t":400.0,"v":0.054}
]
},
"vconcat": [
{
"width": 1605, "height": 252,
"layer": [
{
"data": {"name": "psi1"},
"mark": {"type": "line", "strokeWidth": 4.5, "strokeJoin": "round"},
"encoding": {
"x": {"field": "t", "type": "quantitative", "scale": {"domain": [380, 400], "nice": false, "zero": false}, "axis": {"title": null, "values": [380, 382.5, 385, 387.5, 390, 392.5, 395, 397.5, 400], "format": ".1f", "labelFlush": false}},
"y": {"field": "v", "type": "quantitative", "scale": {"domain": [0, 1.408], "nice": false}, "axis": {"title": "RMSE/spread (ψ₁)", "values": [0, 0.5, 1.0], "format": ".1f", "labelFlush": false}},
"color": {"field": "s", "type": "nominal", "scale": {"domain": ["LR","LS","ER","ES","OR","OS"], "range": ["#ff0000","#ff0000","#0000ff","#0000ff","#bfbf00","#bfbf00"]}, "legend": {"labelExpr": "datum.label=='LR'?'LaCGKN RMSE':datum.label=='ER'?'EnKF RMSE':datum.label=='OR'?'OI RMSE':datum.label=='LS'?'LaCGKN spread':datum.label=='ES'?'EnKF spread':'OI spread'"}},
"strokeDash": {"field": "s", "type": "nominal", "scale": {"domain": ["LR","LS","ER","ES","OR","OS"], "range": [[1,0],[4.5,8],[1,0],[4.5,8],[1,0],[4.5,8]]}, "legend": {"labelExpr": "datum.label=='LR'?'LaCGKN RMSE':datum.label=='ER'?'EnKF RMSE':datum.label=='OR'?'OI RMSE':datum.label=='LS'?'LaCGKN spread':datum.label=='ES'?'EnKF spread':'OI spread'"}}
}
},
{
"data": {"values": [{}]},
"mark": {"type": "rule", "color": "#a0461e", "strokeWidth": 4},
"encoding": {
"x": {"datum": 375.975, "type": "quantitative"},
"y": {"datum": 2.12, "type": "quantitative"},
"y2": {"datum": -2.34}
}
}
]
},
{
"data": {"name": "psi2"},
"width": 1605, "height": 252,
"mark": {"type": "line", "strokeWidth": 4.5, "strokeJoin": "round"},
"encoding": {
"x": {"field": "t", "type": "quantitative", "scale": {"domain": [380, 400], "nice": false, "zero": false}, "axis": {"title": "t", "titlePadding": 6, "values": [380, 382.5, 385, 387.5, 390, 392.5, 395, 397.5, 400], "format": ".1f", "labelFlush": false}},
"y": {"field": "v", "type": "quantitative", "scale": {"domain": [0, 0.8], "nice": false}, "axis": {"title": "RMSE/spread (ψ₂)", "values": [0, 0.2, 0.4, 0.6, 0.8], "format": ".1f", "labelFlush": false}},
"color": {"field": "s", "type": "nominal", "scale": {"domain": ["LR","LS","ER","ES","OR","OS"], "range": ["#ff0000","#ff0000","#0000ff","#0000ff","#bfbf00","#bfbf00"]}, "legend": {"labelExpr": "datum.label=='LR'?'LaCGKN RMSE':datum.label=='ER'?'EnKF RMSE':datum.label=='OR'?'OI RMSE':datum.label=='LS'?'LaCGKN spread':datum.label=='ES'?'EnKF spread':'OI spread'"}},
"strokeDash": {"field": "s", "type": "nominal", "scale": {"domain": ["LR","LS","ER","ES","OR","OS"], "range": [[1,0],[4.5,8],[1,0],[4.5,8],[1,0],[4.5,8]]}, "legend": {"labelExpr": "datum.label=='LR'?'LaCGKN RMSE':datum.label=='ER'?'EnKF RMSE':datum.label=='OR'?'OI RMSE':datum.label=='LS'?'LaCGKN spread':datum.label=='ES'?'EnKF spread':'OI spread'"}}
}
}
],
"spacing": 93,
"bounds": "flush",
"config": {
"font": "DejaVu Sans",
"view": {"stroke": "black", "strokeWidth": 2.4},
"axis": {"domainColor": "black", "domainWidth": 2.4, "tickColor": "black", "tickWidth": 2.4, "tickSize": 10.5, "labelFont": "DejaVu Sans", "labelFontSize": 30, "labelColor": "black", "labelPadding": 9, "grid": false, "titleFont": "DejaVu Sans", "titleFontSize": 30, "titleFontWeight": "normal", "titleColor": "black", "labelOverlap": false},
"axisY": {"titlePadding": 19, "labelPadding": 12},
"legend": {"orient": "none", "legendX": 299, "legendY": -99, "columns": 3, "title": null, "symbolType": "M-1,0H3", "symbolSize": 784, "symbolStrokeWidth": 4.5, "labelFont": "DejaVu Sans", "labelFontSize": 28, "labelColor": "black", "labelOffset": 50, "columnPadding": 56, "rowPadding": 9, "padding": 6, "strokeColor": "#cccccc", "strokeWidth": 2, "cornerRadius": 6, "fillColor": "white", "labelLimit": 400}
}
}
